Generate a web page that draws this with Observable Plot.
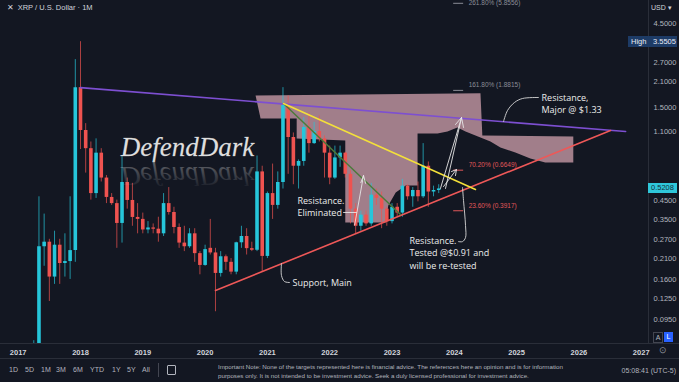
<!DOCTYPE html>
<html><head><meta charset="utf-8">
<script src="https://cdn.jsdelivr.net/npm/d3@7"></script>
<script src="https://cdn.jsdelivr.net/npm/@observablehq/plot@0.6"></script>
<style>
body{margin:0;background:#131722;}
#wrap{position:relative;width:679px;height:382px;overflow:hidden;background:#131722;font-family:"Liberation Sans",Arial,sans-serif;}
.ov{position:absolute;white-space:nowrap;line-height:1;}
</style></head>
<body><div id="wrap"><div id="chart"></div></div>
<script>
// ---------- data ----------
const months = ["2017-04","2017-05","2017-06","2017-07","2017-08","2017-09","2017-10","2017-11","2017-12",
"2018-01","2018-02","2018-03","2018-04","2018-05","2018-06","2018-07","2018-08","2018-09","2018-10","2018-11","2018-12",
"2019-01","2019-02","2019-03","2019-04","2019-05","2019-06","2019-07","2019-08","2019-09","2019-10","2019-11","2019-12",
"2020-01","2020-02","2020-03","2020-04","2020-05","2020-06","2020-07","2020-08","2020-09","2020-10","2020-11","2020-12",
"2021-01","2021-02","2021-03","2021-04","2021-05","2021-06","2021-07","2021-08","2021-09","2021-10","2021-11","2021-12",
"2022-01","2022-02","2022-03","2022-04","2022-05","2022-06","2022-07","2022-08","2022-09","2022-10","2022-11","2022-12",
"2023-01","2023-02","2023-03","2023-04","2023-05","2023-06","2023-07","2023-08","2023-09","2023-10"];
const opens  = [0.036,0.057,0.245,0.26,0.165,0.25,0.197,0.202,0.233,
1.95,1.115,0.88,0.49,0.83,0.60,0.466,0.43,0.332,0.566,0.448,0.359,
0.35,0.305,0.313,0.308,0.29,0.43,0.383,0.315,0.257,0.245,0.29,0.224,
0.192,0.24,0.226,0.173,0.215,0.20,0.176,0.258,0.28,0.239,0.234,0.65,
0.216,0.49,0.42,0.566,1.545,1.018,0.70,0.745,1.16,0.94,1.10,1.00,
0.83,0.60,0.78,0.83,0.63,0.40,0.32,0.37,0.33,0.48,0.46,0.40,
0.34,0.41,0.38,0.54,0.47,0.51,0.47,0.70,0.50,0.51];
const highs  = [0.072,0.47,0.375,0.27,0.30,0.27,0.29,0.47,2.81,
3.5505,1.22,0.96,1.0,0.88,0.62,0.49,0.45,0.80,0.60,0.56,0.43,
0.38,0.34,0.33,0.36,0.49,0.53,0.41,0.33,0.32,0.31,0.31,0.23,
0.25,0.35,0.24,0.23,0.22,0.21,0.26,0.32,0.31,0.26,0.80,0.70,
0.50,0.72,0.65,1.95,1.75,1.08,0.76,1.32,1.40,1.24,1.35,1.04,
0.91,0.91,0.91,0.84,0.66,0.43,0.39,0.39,0.56,0.52,0.50,0.41,
0.43,0.43,0.59,0.55,0.53,0.57,0.94,0.74,0.54,0.55];
const lows   = [0.030,0.055,0.19,0.12,0.15,0.15,0.165,0.16,0.20,
0.87,0.64,0.45,0.46,0.57,0.43,0.42,0.24,0.257,0.40,0.32,0.29,
0.29,0.29,0.29,0.26,0.28,0.37,0.29,0.24,0.23,0.24,0.20,0.17,
0.19,0.22,0.105,0.165,0.18,0.17,0.17,0.24,0.22,0.23,0.23,0.175,
0.21,0.35,0.40,0.52,0.63,0.55,0.52,0.70,0.83,0.93,0.96,0.60,
0.55,0.59,0.69,0.60,0.33,0.29,0.30,0.32,0.32,0.42,0.31,0.32,
0.33,0.36,0.36,0.45,0.41,0.44,0.46,0.41,0.47,0.49];
const closes = [0.057,0.245,0.26,0.165,0.25,0.197,0.202,0.233,1.95,
1.115,0.88,0.49,0.83,0.60,0.466,0.43,0.332,0.566,0.448,0.359,0.35,
0.305,0.313,0.308,0.29,0.43,0.383,0.315,0.257,0.245,0.29,0.224,0.192,
0.236,0.226,0.173,0.215,0.20,0.176,0.258,0.28,0.239,0.234,0.65,0.216,
0.49,0.42,0.566,1.545,1.018,0.70,0.745,1.16,0.94,1.10,1.00,0.83,
0.60,0.78,0.83,0.63,0.40,0.32,0.37,0.33,0.48,0.46,0.40,0.34,
0.41,0.38,0.54,0.47,0.51,0.47,0.70,0.50,0.51,0.5208];

const yTicks = [4.5,2.7,2.1,1.5,1.1,0.8,0.6,0.45,0.35,0.27,0.21,0.16,0.125,0.095];
const xTicks = [2017,2018,2019,2020,2021,2022,2023,2024,2025,2026,2027];
const xDomain = [2016.716, 2027.117];
const yDomain = [0.0694, 6.074];
const highPrice = 3.5505;
const lastPrice = 0.5208;

// trend lines (decimal year, price)
const purpleX = [2018.0, 2026.75],   purpleY = [1.95, 1.10];
const supportX = [2020.167, 2026.507], supportY = [0.1385, 1.115];
const yellowX = [2021.258, 2024.34], yellowY = [1.586, 0.517];
const greenX  = [2021.258, 2023.136], greenY = [1.586, 0.373];

// projected zone outline
const zoneX = [2020.81,2024.42,2024.45,2025.91,2025.91,2025.46,2025.22,2024.98,2024.74,2024.58,2024.34,2024.18,2024.05,2023.89,2023.73,2023.41,2023.41,2023.22,2023.06,2022.94,2022.90,2022.25,2022.25,2021.47,2021.47,2020.89];
const zoneY = [1.76,1.81,1.045,1.03,0.735,0.735,0.774,0.837,0.894,0.966,1.045,1.10,1.16,1.10,1.072,1.072,0.544,0.544,0.497,0.419,0.336,0.336,0.979,1.005,1.304,1.304];

// fibonacci levels
const fibLabels = ["261.80% (5.8556)","161.80% (1.8815)","70.20% (0.6649)","23.60% (0.3917)"];
const fibValues = [5.8556, 1.8815, 0.6649, 0.3917];
const fibDashFrom = 2023.99, fibDashTo = 2024.15, fibTextAt = 2024.23;

// hand-drawn arrows (straight strokes)
const arrowGroup = [1,1, 2,2, 3,3,3, 4,4, 5,5,5, 6,6, 7,7,7, 8,8];
const arrowX = [2023.778,2024.116, 2023.859,2024.116, 2024.019,2024.116,2024.148, 2023.827,2024.035, 2023.955,2024.035,2024.019,
                2022.40,2022.543, 2022.50,2022.543,2022.575, 2022.222,2022.43];
const arrowY = [0.524,1.321, 0.524,1.321, 1.206,1.321,1.160, 0.537,0.671, 0.653,0.671,0.620,
                0.325,0.62, 0.565,0.62,0.56, 0.383,0.383];
// curved connectors
const connGroup = [1,1,1,1, 2,2,2,2,2, 3,3,3,3,3,3];
const connX = [2021.226,2021.226,2021.274,2021.355, 2024.790,2024.854,2024.966,2025.095,2025.352,
               2024.132,2024.148,2024.180,2024.180,2024.132,2024.067];
const connY = [0.197,0.1684,0.1557,0.1537, 1.254,1.447,1.607,1.693,1.715,
               0.530,0.448,0.323,0.276,0.262,0.262];

// annotation texts
const noteTexts = ["Resistance,\nMajor @ $1.33","Resistance.\nEliminated","Support, Main","Resistance.\nTested @$0.91 and\nwill be re-tested"];
const noteX = [2025.40, 2021.483, 2021.403, 2023.281];
const noteY = [1.596, 0.4168, 0.1537, 0.2273];

const watermark = "DefendDark";
const wmX = 2019.717, wmY = 0.805;
const title = "✕  XRP / U.S. Dollar · 1M";

// ---------- build ----------
const toYear = s => +s.slice(0,4) + (+s.slice(5,7) - 1) / 12;
const candles = months.map((m,i) => ({t: toYear(m), o: opens[i], h: highs[i], l: lows[i], c: closes[i]}));
const UP = "#26c6da", DOWN = "#ef5350";
const col = d => d.c >= d.o ? UP : DOWN;
const pts = (xs, ys) => xs.map((x,i) => ({x, y: ys[i]}));
const zone = pts(zoneX, zoneY);
const fibs = fibLabels.map((label,i) => ({label, v: fibValues[i], x1: fibDashFrom, x2: fibDashTo, xt: fibTextAt}));
const fibCol = d => d.v > 1 ? "#8a8d96" : "#e0575a";
const fibTop = fibs.filter(d => d.v > 4), fibRest = fibs.filter(d => d.v <= 4);
const arrows = arrowX.map((x,i) => ({x, y: arrowY[i], g: arrowGroup[i]}));
const conns = connX.map((x,i) => ({x, y: connY[i], g: connGroup[i]}));
const notes = noteTexts.map((t,i) => ({t, x: noteX[i], y: noteY[i]}));
const wm = [{t: watermark, x: wmX, y: wmY}];
const annoFont = "Open Sans, DejaVu Sans, sans-serif";
const wmFont = "Liberation Serif, DejaVu Serif, serif";

const plot = Plot.plot({
  width: 679, height: 358,
  marginTop: 0, marginRight: 31, marginBottom: 15, marginLeft: 0,
  style: {background: "#131722", color: "#b2b5be", fontSize: "7.5px",
          fontFamily: "Liberation Sans, Arial, sans-serif", overflow: "hidden"},
  x: {domain: xDomain, ticks: xTicks, tickFormat: d => String(d), tickSize: 0, tickPadding: 6, label: null},
  y: {type: "log", domain: yDomain, ticks: yTicks, tickFormat: d => d.toFixed(4),
      tickSize: 0, tickPadding: 5, label: null, axis: "right"},
  color: {type: "identity"},
  marks: [
    Plot.line(zone, {x: "x", y: "y", fill: "#c99ba8", fillOpacity: 0.78, stroke: "none", curve: "linear-closed"}),
    Plot.ruleX(candles, {x: "t", y1: "l", y2: "h", stroke: col, strokeWidth: 1, strokeOpacity: 0.7, clip: true}),
    Plot.ruleX(candles, {x: "t", y1: "o", y2: "c", stroke: col, strokeWidth: 3.6, clip: true}),
    Plot.line(pts(purpleX, purpleY), {x: "x", y: "y", stroke: "#7d4fd1", strokeWidth: 1.6}),
    Plot.line(pts(supportX, supportY), {x: "x", y: "y", stroke: "#ee5858", strokeWidth: 1.6}),
    Plot.line(pts(greenX, greenY), {x: "x", y: "y", stroke: "#4c7a3a", strokeWidth: 1.5}),
    Plot.line(pts(yellowX, yellowY), {x: "x", y: "y", stroke: "#f3e03a", strokeWidth: 1.6}),
    Plot.ruleY(fibs, {y: "v", x1: "x1", x2: "x2", stroke: fibCol, strokeWidth: 1}),
    Plot.text(fibRest, {x: "xt", y: "v", text: "label", dy: -5, textAnchor: "start", fill: fibCol, fontSize: 6.5}),
    Plot.text(fibTop, {x: "xt", y: "v", text: "label", dy: -3, lineAnchor: "top", textAnchor: "start", fill: fibCol, fontSize: 6.5}),
    Plot.line(arrows, {x: "x", y: "y", z: "g", stroke: "#e6e6e6", strokeWidth: 0.9}),
    Plot.line(conns, {x: "x", y: "y", z: "g", stroke: "#d8d8d8", strokeWidth: 0.9, curve: "catmull-rom"}),
    Plot.text(notes, {x: "x", y: "y", text: "t", textAnchor: "start", fill: "#ececec", fontSize: 9,
                      lineHeight: 1.38, fontFamily: annoFont}),
    Plot.text(wm, {x: "x", y: "y", text: "t", lineAnchor: "bottom", fontSize: 27, fontStyle: "italic",
                   fontFamily: wmFont, fill: "#dedede", stroke: "#8a8a8a", strokeWidth: 0.3}),
    Plot.text(wm, {x: "x", y: "y", text: "t", lineAnchor: "bottom", fontSize: 27, fontStyle: "italic",
                   fontFamily: wmFont, fill: "#c8c8c8", fillOpacity: 0.3}),
    Plot.text([title], {text: d => d, frameAnchor: "top-left", dx: 6, dy: 4, lineAnchor: "top",
                        textAnchor: "start", fill: "#d1d4dc", fontSize: 7.5})
  ]
});
document.getElementById("chart").appendChild(plot);

// mirror the second watermark copy below its baseline, fading out
const yS = plot.scale("y");
const svgSel = d3.select(plot);
const grad = svgSel.insert("defs", ":first-child").append("linearGradient")
  .attr("id", "wmfade").attr("x1", 0).attr("y1", 0).attr("x2", 0).attr("y2", 1);
grad.append("stop").attr("offset", 0).attr("stop-color", "#c8c8c8").attr("stop-opacity", 0.0);
grad.append("stop").attr("offset", 1).attr("stop-color", "#c8c8c8").attr("stop-opacity", 0.45);
const wmTexts = Array.from(plot.querySelectorAll("text")).filter(t => t.textContent === watermark);
if (wmTexts.length > 1) {
  const t = wmTexts[wmTexts.length - 1];
  const g = t.parentNode;
  const yb = yS.apply(wmY) + 6;
  const w = document.createElementNS("http://www.w3.org/2000/svg", "g");
  w.setAttribute("transform", `translate(0,${2 * yb}) scale(1,-1)`);
  g.parentNode.insertBefore(w, g);
  w.appendChild(g);
  g.removeAttribute("fill-opacity");
  g.setAttribute("fill", "url(#wmfade)");
  t.removeAttribute("fill-opacity");
  t.setAttribute("fill", "url(#wmfade)");
}
// bolder year labels
plot.querySelectorAll('g[aria-label="x-axis tick label"] text, g[aria-label="x-axis"] text')
  .forEach(t => { t.setAttribute("font-weight", "600"); t.setAttribute("fill", "#d1d4dc"); });

// ---------- UI chrome (TradingView frame) ----------
const wrap = document.getElementById("wrap");
function ov(html, css) { const d = document.createElement("div"); d.className = "ov"; d.style.cssText = css; d.innerHTML = html; wrap.appendChild(d); return d; }
ov("", "left:648px;top:0;width:1px;height:343px;background:#2a2e39;");
ov("", "left:0;top:343px;width:679px;height:1px;background:#2a2e39;");
ov("", "left:0;top:358px;width:679px;height:1px;background:#2a2e39;");
ov("USD &#9662;", "left:651px;top:4px;font-size:7px;color:#d1d4dc;");
const hy = yS.apply(highPrice);
ov('<span style="position:absolute;left:3px;top:2px">High</span><span style="position:absolute;left:25px;top:2px">' + highPrice.toFixed(4) + '</span>',
   `left:628px;top:${hy - 5.5}px;width:49px;height:11px;background:#1d3b66;color:#e8ecf5;font-size:7.5px;`);
const ly = yS.apply(lastPrice);
ov(lastPrice.toFixed(4), `left:648px;top:${ly - 5}px;width:29px;height:10px;background:#2fc7da;color:#15303a;font-size:7.5px;text-align:center;line-height:10px;`);
ov("A", "left:653px;top:332px;width:8px;height:9px;border:1px solid #434651;color:#b2b5be;font-size:7px;text-align:center;line-height:9px;box-sizing:content-box;");
ov("L", "left:664px;top:332px;width:9px;height:10px;background:#2962ff;color:#fff;font-size:7px;text-align:center;line-height:10px;");
ov("&#8857;", "left:659px;top:346px;font-size:9px;color:#8a8d96;");
const ranges = ["1D","5D","1M","3M","6M","YTD","1Y","5Y","All"];
const rangeLeft = [9,25,41,56,73,90,112,127,142];
ranges.forEach((r,i) => ov(r, `left:${rangeLeft[i]}px;top:366px;font-size:7px;color:#b2b5be;`));
ov("", "left:158px;top:363px;width:1px;height:14px;background:#434651;");
ov("", "left:167px;top:365px;width:7px;height:8px;border:1px solid #b2b5be;border-radius:1px;");
ov("Important Note: None of the targets represented here is financial advice. The references here an opinion and is for information<br>purposes only. It is not intended to be investment advice. Seek a duly licensed professional for investment advice.",
   "left:218px;top:362px;font-size:6.2px;line-height:9px;color:#b2b5be;");
ov("05:08:41 (UTC-5)", "right:3px;top:367px;font-size:7px;color:#b2b5be;");
</script>
</body></html>
